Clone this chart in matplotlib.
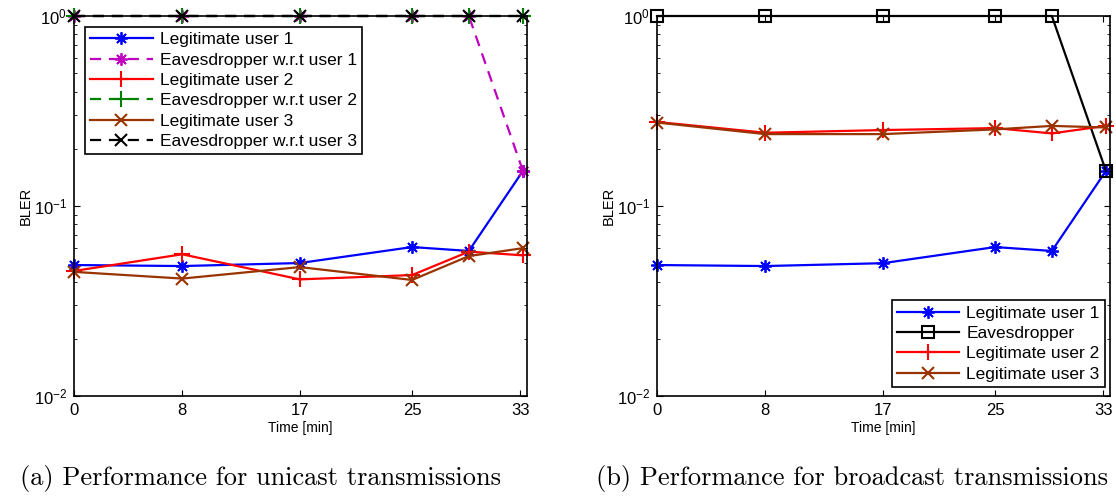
import numpy as np
import matplotlib.pyplot as plt
from matplotlib.ticker import LogLocator, NullFormatter

plt.rcParams['font.family'] = ['Liberation Sans', 'DejaVu Sans']
plt.rcParams['mathtext.fontset'] = 'custom'
plt.rcParams['mathtext.rm'] = 'Liberation Sans'

# time axis (minutes)
time = [0, 8.0, 16.7, 25.0, 29.2, 33.2]
tick_pos = [0, 8.0, 16.7, 25.0, 33.0]
tick_lab = ['0', '8', '17', '25', '33']

# (a) unicast
uni_leg1 = [0.0489, 0.0483, 0.0501, 0.0608, 0.058, 0.153]
uni_eve1 = [1, 1, 1, 1, 1, 0.153]
uni_leg2 = [0.0455, 0.0557, 0.0411, 0.0433, 0.0575, 0.055]
uni_eve2 = [1, 1, 1, 1, 1, 1]
uni_leg3 = [0.045, 0.0415, 0.0477, 0.0408, 0.0545, 0.060]
uni_eve3 = [1, 1, 1, 1, 1, 1]

# (b) broadcast
bc_leg1 = [0.0489, 0.0483, 0.0500, 0.0608, 0.058, 0.153]
bc_eve = [1, 1, 1, 1, 1, 0.153]
bc_leg2 = [0.277, 0.243, 0.251, 0.257, 0.241, 0.264]
bc_leg3 = [0.275, 0.239, 0.239, 0.253, 0.264, 0.259]

ast = (8, 2, 0)  # matlab-like asterisk
brown = (0.6, 0.2, 0.0)
green = (0.0, 0.5, 0.0)
dash = (0, (5, 3.5))
lw = 1.6
ms = 9

fig = plt.figure(figsize=(11.16, 4.97), dpi=100)
ax1 = fig.add_axes([74/1116, 101/497, 453/1116, 380/497])
ax2 = fig.add_axes([657/1116, 101/497, 453/1116, 380/497])

ax1.plot(time, uni_leg1, color='b', marker=ast, ms=ms, mew=1.3, lw=lw, label='Legitimate user 1', clip_on=False)
ax1.plot(time, uni_eve1, color='m', marker=ast, ms=ms, mew=1.3, lw=lw, ls=dash, label='Eavesdropper w.r.t user 1', clip_on=False)
ax1.plot(time, uni_leg2, color='r', marker='+', ms=ms+2, mew=1.5, lw=lw, label='Legitimate user 2', clip_on=False)
ax1.plot(time, uni_eve2, color=green, marker='+', ms=ms+2, mew=1.5, lw=lw, ls=dash, label='Eavesdropper w.r.t user 2', clip_on=False)
ax1.plot(time, uni_leg3, color=brown, marker='x', ms=ms-1, mew=1.5, lw=lw, label='Legitimate user 3', clip_on=False)
ax1.plot(time, uni_eve3, color='k', marker='x', ms=ms-1, mew=1.5, lw=lw, ls=dash, label='Eavesdropper w.r.t user 3', clip_on=False)

ax2.plot(time, bc_leg1, color='b', marker=ast, ms=ms, mew=1.3, lw=lw, label='Legitimate user 1', clip_on=False)
ax2.plot(time, bc_eve, color='k', marker='s', ms=8, mfc='none', mew=1.5, lw=lw, label='Eavesdropper', clip_on=False)
ax2.plot(time, bc_leg2, color='r', marker='+', ms=ms+2, mew=1.5, lw=lw, label='Legitimate user 2', clip_on=False)
ax2.plot(time, bc_leg3, color=brown, marker='x', ms=ms-1, mew=1.5, lw=lw, label='Legitimate user 3', clip_on=False)

for ax in (ax1, ax2):
    ax.set_yscale('log')
    ax.set_ylim(1e-2, 1)
    ax.set_xlim(0, 33.5)
    ax.set_xticks(tick_pos)
    ax.set_xticklabels(tick_lab)
    ax.yaxis.set_minor_locator(LogLocator(base=10, subs=np.arange(2, 10)))
    ax.yaxis.set_minor_formatter(NullFormatter())
    ax.tick_params(which='both', direction='in', top=True, right=True, labelsize=12, pad=5)
    ax.tick_params(which='major', length=4)
    ax.tick_params(which='minor', length=2.5)
    for s in ax.spines.values():
        s.set_linewidth(1.2)
    ax.set_xlabel('Time [min]', fontsize=10, labelpad=2)
    ax.set_ylabel('BLER', fontsize=10.5, labelpad=1)

leg_kw = dict(fontsize=12.5, frameon=True, fancybox=False, edgecolor='k', framealpha=1,
              handlelength=3.6, handletextpad=0.4, labelspacing=0.3, borderpad=0.3)
l1 = ax1.legend(loc='upper left', bbox_to_anchor=(11/453, 1 - 11/380), borderaxespad=0, **leg_kw)
l2 = ax2.legend(loc='lower right', bbox_to_anchor=(1 - 5/453, 9/380), borderaxespad=0, **leg_kw)
for l in (l1, l2):
    l.get_frame().set_linewidth(1.2)

fig.text(260/1116, 1 - 478/497, '(a) Performance for unicast transmissions',
         ha='center', va='center', fontsize=19, family='cmr10')
fig.text(852/1116, 1 - 478/497, '(b) Performance for broadcast transmissions',
         ha='center', va='center', fontsize=19, family='cmr10')

fig.savefig('out.png', dpi=100)
